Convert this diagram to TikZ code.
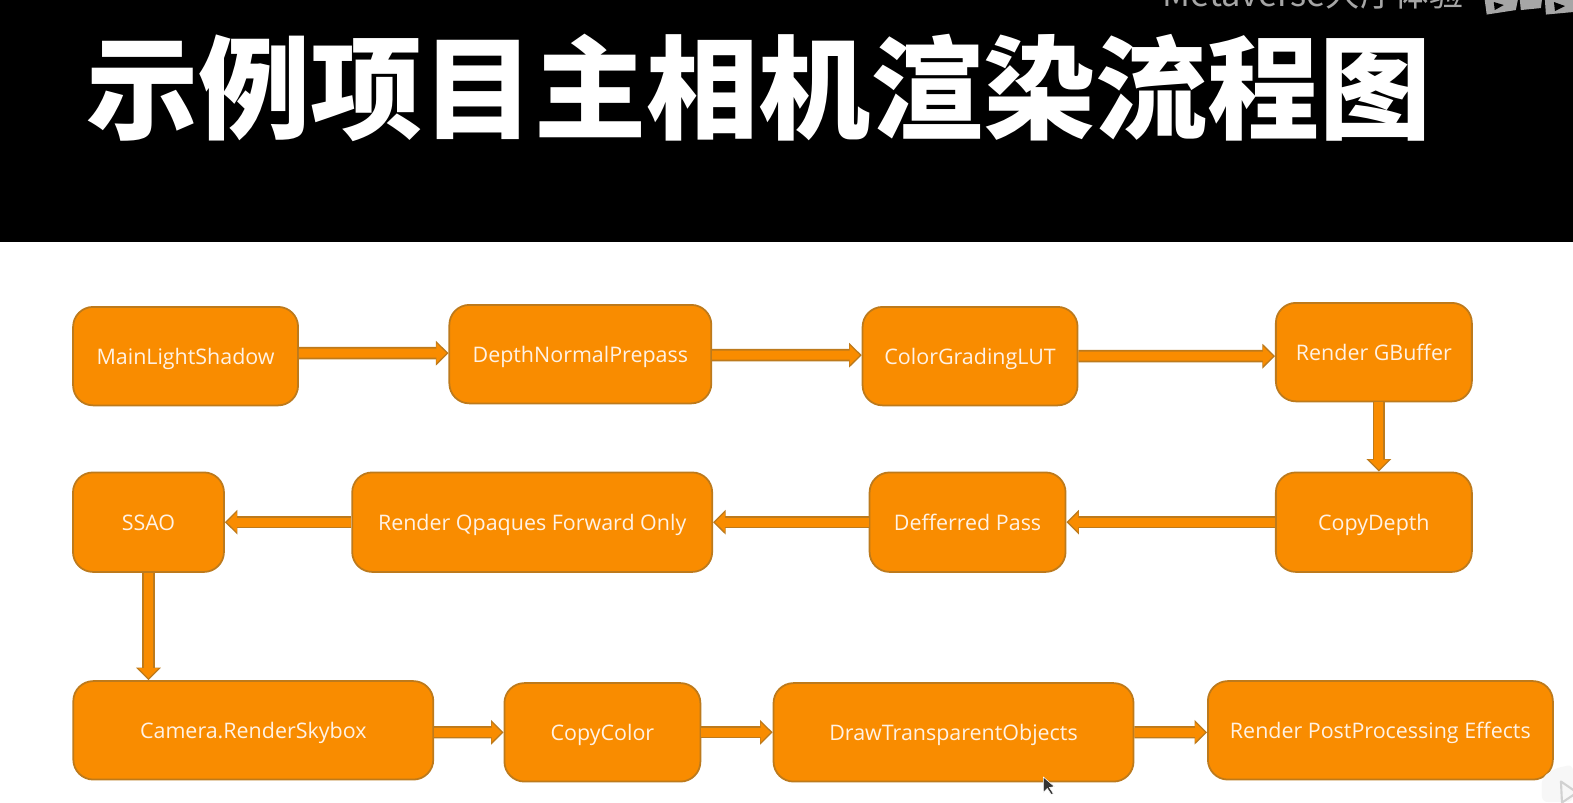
\documentclass[tikz,border=0pt]{standalone}
\usepackage{fontspec}
\setmainfont{Open Sans}
\newfontfamily\cjk[BoldFont={Noto Sans CJK SC Black}]{Noto Sans CJK SC}
\usetikzlibrary{arrows.meta}
\definecolor{passfill}{HTML}{F98C00}
\definecolor{passedge}{HTML}{BD7A1C}
\tikzset{
  passbox/.style={draw=passedge, fill=passfill, line width=0.5pt, rounded corners=0.2cm,
    inner sep=0pt, text=white!90!orange, text height=0.185cm, text depth=0.025cm,
    font=\fontsize{6.1pt}{7pt}\selectfont},
  passarrow/.style={draw=passedge, line width=3.5pt,
    -{Triangle[length=0.125cm,width=0.24cm,fill=passfill]},
    postaction={draw=passfill, line width=2.6pt, -{Triangle[length=0.10cm,width=0.19cm,color=passfill]}, shorten >=0.02cm}}
}

\begin{document}
\begin{tikzpicture}[x=1.0032cm,y=1.0032cm]

% Page and title band
\useasboundingbox (0,0) rectangle (15.68,-7.995);
\fill[white] (0,0) rectangle (15.68,-7.995);
\fill[black] (0,0) rectangle (15.68,-2.41);
\node[text=white, font=\cjk\bfseries\fontsize{31.9pt}{36pt}\selectfont, inner sep=0pt] (title) at (7.565,-0.88) {示例项目主相机渲染流程图};

% Cropped watermark at the top edge
\node[text=black!35, font=\cjk\fontsize{9.8pt}{11pt}\selectfont, inner sep=0pt, anchor=base west] (watermark) at (11.58,-0.065) {Metaverse大厅体验};
\fill[black!35] (14.80,0) -- (15.13,0) -- (15.11,-0.10) -- (14.82,-0.145) -- cycle;
\fill[black] (14.89,-0.02) -- (14.99,-0.05) -- (14.90,-0.10) -- cycle;
\fill[black!35] (15.15,0) -- (15.37,0) -- (15.36,-0.08) -- (15.16,-0.10) -- cycle;
\fill[black!35] (15.40,0) -- (15.68,0) -- (15.68,-0.12) -- (15.41,-0.145) -- cycle;
\fill[black] (15.49,-0.02) -- (15.60,-0.06) -- (15.50,-0.11) -- cycle;

% Upper row
\node[passbox, minimum width=2.25cm, minimum height=0.985cm] (mainshadow) at (1.85,-3.55) {MainLightShadow};
\node[passbox, minimum width=2.62cm, minimum height=0.985cm] (depthnormal) at (5.785,-3.53) {DepthNormalPrepass};
\node[passbox, minimum width=2.15cm, minimum height=0.985cm] (gradinglut) at (9.67,-3.55) {ColorGradingLUT};
\node[passbox, minimum width=1.96cm, minimum height=0.985cm] (gbuffer) at (13.695,-3.51) {Render GBuffer};

% Middle row
\node[passbox, minimum width=1.96cm, minimum height=0.995cm] (copydepth) at (13.695,-5.205) {CopyDepth};
\node[passbox, minimum width=1.96cm, minimum height=0.995cm] (deferred) at (9.645,-5.205) {Defferred Pass};
\node[passbox, minimum width=3.60cm, minimum height=0.995cm] (opaques) at (5.305,-5.205) {Render Qpaques Forward Only};
\node[passbox, minimum width=1.51cm, minimum height=0.995cm] (ssao) at (1.48,-5.205) {SSAO};

% Lower row
\node[passbox, minimum width=3.60cm, minimum height=0.985cm] (skybox) at (2.525,-7.28) {Camera.RenderSkybox};
\node[passbox, minimum width=1.96cm, minimum height=0.985cm] (copycolor) at (6.005,-7.30) {CopyColor};
\node[passbox, minimum width=3.60cm, minimum height=0.985cm] (transparent) at (9.505,-7.30) {DrawTransparentObjects};
\node[passbox, minimum width=3.45cm, minimum height=0.985cm] (postfx) at (13.76,-7.28) {Render PostProcessing Effects};

% Arrows between passes
\draw[passarrow] ([yshift=0.03cm]mainshadow.east) -- ([yshift=0.01cm]depthnormal.west);
\draw[passarrow] ([yshift=-0.01cm]depthnormal.east) -- ([yshift=0.01cm]gradinglut.west);
\draw[passarrow] (gradinglut.east) -- ([yshift=-0.04cm]gbuffer.west);
\draw[passarrow] ([xshift=0.05cm]gbuffer.south) -- ([xshift=0.05cm]copydepth.north);
\draw[passarrow] (copydepth.west) -- (deferred.east);
\draw[passarrow] (deferred.west) -- (opaques.east);
\draw[passarrow] (opaques.west) -- (ssao.east);
\draw[passarrow] (ssao.south) -- (ssao.south |- skybox.north);
\draw[passarrow] ([yshift=-0.02cm]skybox.east) -- (copycolor.west);
\draw[passarrow] (copycolor.east) -- (transparent.west);
\draw[passarrow] (transparent.east) -- ([yshift=-0.02cm]postfx.west);

% Mouse pointer and the play badge in the corner
\fill[black!80, draw=white, line width=0.15pt] (10.40,-7.745) -- (10.40,-7.90) -- (10.44,-7.86) -- (10.48,-7.92) -- (10.50,-7.91) -- (10.46,-7.85) -- (10.51,-7.84) -- cycle;
\fill[white!97!black, rounded corners=0.06cm] (15.37,-7.75) -- (15.50,-7.66) -- (15.68,-7.62) -- (15.68,-7.995) -- (15.37,-7.995) -- cycle;
\draw[black!18, line width=0.6pt, line join=round] (15.56,-7.79) -- (15.72,-7.90) -- (15.57,-8.0) -- cycle;

\end{tikzpicture}
\end{document}
